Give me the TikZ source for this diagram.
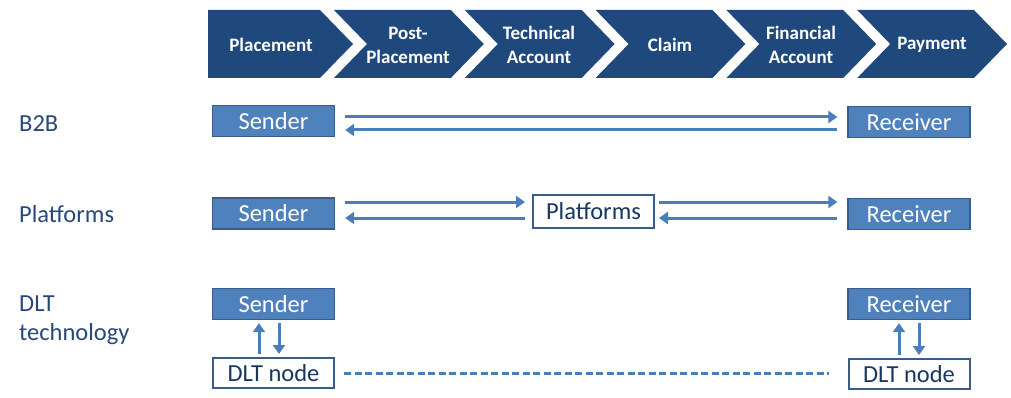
\documentclass[tikz,border=0pt]{standalone}
\usepackage{fontspec}
\setmainfont{Carlito}
\usetikzlibrary{arrows.meta}
\definecolor{chev}{RGB}{31,73,125}
\definecolor{boxfill}{RGB}{79,129,189}
\definecolor{boxline}{RGB}{56,93,138}
\definecolor{arrowc}{RGB}{74,126,187}
\definecolor{labelc}{RGB}{38,72,122}
\definecolor{wtext}{RGB}{23,55,94}
\begin{document}
\begin{tikzpicture}[x=1pt,y=-1pt,
  chevron/.style={fill=chev,draw=none},
  chevtext/.style={text=white,font=\fontsize{19}{24}\selectfont\bfseries,align=center,inner sep=0pt},
  bluebox/.style={fill=boxfill,draw=boxline,line width=1.3pt,text=white,minimum width=122pt,minimum height=31pt,inner sep=0pt,font=\fontsize{24.5}{28}\selectfont},
  whitebox/.style={fill=white,draw=boxline,line width=2pt,text=wtext,minimum width=121pt,minimum height=30pt,inner sep=0pt,font=\fontsize{24.5}{28}\selectfont},
  rowlabel/.style={text=labelc,font=\fontsize{24.5}{28.5}\selectfont,inner sep=0pt,align=left},
  arr/.style={draw=arrowc,line width=3pt,-{Triangle[length=9pt,width=12pt]}},
  dashline/.style={draw=arrowc,line width=3pt,dash pattern=on 7pt off 3.5pt}
]
\useasboundingbox (0,0) rectangle (1011,398);
% chevrons
\fill[chevron] (208,10) -- (320,10) -- (353,44) -- (320,78) -- (208,78) -- cycle;
\foreach \i in {1,...,5}{
  \pgfmathsetmacro{\tp}{353+130.8*(\i-1)}
  \pgfmathsetmacro{\tip}{353+130.8*\i}
  \pgfmathsetmacro{\L}{\tp-19}
  \pgfmathsetmacro{\N}{\tp+14}
  \pgfmathsetmacro{\R}{\tip-33}
  \fill[chevron] (\L,10) -- (\R,10) -- (\tip,44) -- (\R,78) -- (\L,78) -- (\N,44) -- cycle;
}
\node[chevtext] (c1) at (271,45) {Placement};
\node[chevtext] (c2) at (408,45) {Post-\\Placement};
\node[chevtext] (c3) at (539,45) {Technical\\Account};
\node[chevtext] (c4) at (670,45) {Claim};
\node[chevtext] (c5) at (801,45) {Financial\\Account};
\node[chevtext] (c6) at (932,45) {Payment};
% row labels
\node[rowlabel,anchor=base west] (l1) at (19,132) {B2B};
\node[rowlabel,anchor=base west] (l2) at (19,222) {Platforms};
\node[rowlabel,anchor=north west] (l3) at (19,296) {DLT\\technology};
% boxes
\node[bluebox] (s1) at (273.5,121) {Sender};
\node[bluebox] (r1) at (909,122) {Receiver};
\node[bluebox] (s2) at (273.5,213.5) {Sender};
\node[whitebox,minimum height=33pt] (p) at (593.5,211) {Platforms};
\node[bluebox] (r2) at (909,214) {Receiver};
\node[bluebox] (s3) at (273.5,304) {Sender};
\node[bluebox] (r3) at (909,304) {Receiver};
\node[whitebox] (d1) at (273.5,373) {DLT node};
\node[whitebox] (d2) at (909,374) {DLT node};
% y levels
\coordinate (y1u) at (0,117);
\coordinate (y1d) at (0,130);
\coordinate (y2u) at (0,202);
\coordinate (y2d) at (0,218);
\coordinate (y3) at (0,373);
% B2B arrows
\draw[arr] ([xshift=10pt]s1.east |- y1u) -- ([xshift=-10pt]r1.west |- y1u);
\draw[arr] ([xshift=-10pt]r1.west |- y1d) -- ([xshift=10pt]s1.east |- y1d);
% Platforms arrows
\draw[arr] ([xshift=10pt]s2.east |- y2u) -- ([xshift=-7pt]p.west |- y2u);
\draw[arr] ([xshift=-7pt]p.west |- y2d) -- ([xshift=10pt]s2.east |- y2d);
\draw[arr] ([xshift=4pt]p.east |- y2u) -- ([xshift=-10pt]r2.west |- y2u);
\draw[arr] ([xshift=-10pt]r2.west |- y2d) -- ([xshift=4pt]p.east |- y2d);
% DLT arrows
\draw[arr] ([xshift=-14.5pt,yshift=3pt]d1.north) -- ([xshift=-14.5pt,yshift=-3pt]s3.south);
\draw[arr] ([xshift=5.5pt,yshift=-3pt]s3.south) -- ([xshift=5.5pt,yshift=3pt]d1.north);
\draw[arr] ([xshift=-10pt,yshift=3pt]d2.north) -- ([xshift=-10pt,yshift=-3pt]r3.south);
\draw[arr] ([xshift=10pt,yshift=-3pt]r3.south) -- ([xshift=10pt,yshift=3pt]d2.north);
% dashed link
\draw[dashline] ([xshift=9pt]d1.east |- y3) -- ([xshift=-19pt]d2.west |- y3);
\end{tikzpicture}
\end{document}
